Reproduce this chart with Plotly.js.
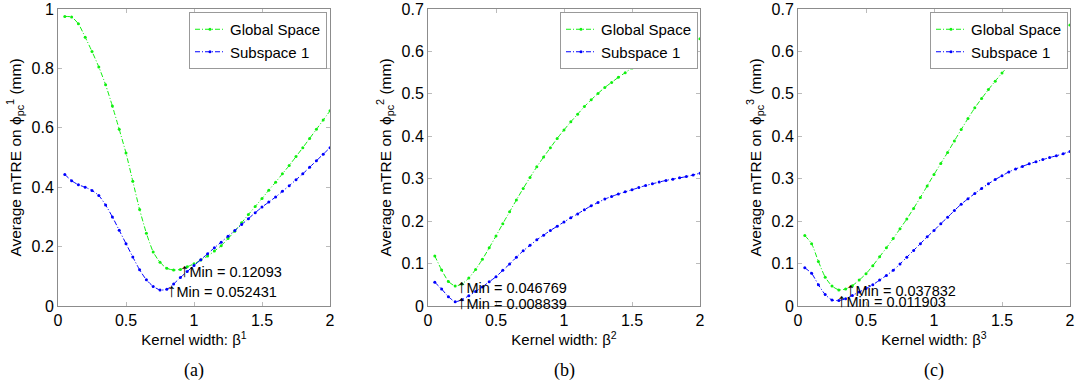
<!DOCTYPE html>
<html><head><meta charset="utf-8">
<script src="https://cdn.plot.ly/plotly-3.0.1.min.js"></script>
<style>body{margin:0;background:#fff}#c{width:1076px;height:391px}</style>
</head><body><div id="c"></div>
<script>
const xVals = [0.05,0.10,0.15,0.20,0.25,0.30,0.35,0.40,0.45,0.50,0.55,0.60,0.65,0.70,0.75,0.80,0.85,0.90,0.95,1.00,1.05,1.10,1.15,1.20,1.25,1.30,1.35,1.40,1.45,1.50,1.55,1.60,1.65,1.70,1.75,1.80,1.85,1.90,1.95,2.00];

const globalA = [0.975,0.973,0.95,0.905,0.857,0.805,0.745,0.673,0.595,0.515,0.42,0.325,0.245,0.182,0.147,0.127,0.121,0.123,0.132,0.142,0.155,0.168,0.185,0.203,0.227,0.252,0.28,0.308,0.335,0.362,0.39,0.417,0.445,0.473,0.503,0.533,0.564,0.595,0.626,0.657];
const subA = [0.443,0.422,0.408,0.400,0.389,0.372,0.340,0.300,0.255,0.210,0.165,0.122,0.088,0.066,0.054,0.056,0.074,0.096,0.116,0.136,0.156,0.176,0.196,0.215,0.235,0.254,0.274,0.294,0.314,0.333,0.350,0.367,0.386,0.405,0.425,0.445,0.467,0.489,0.511,0.533];

const globalB = [0.118,0.085,0.058,0.047,0.052,0.066,0.086,0.110,0.137,0.165,0.194,0.222,0.250,0.277,0.303,0.328,0.351,0.373,0.395,0.415,0.434,0.452,0.470,0.486,0.501,0.515,0.527,0.539,0.550,0.561,0.571,0.580,0.589,0.597,0.604,0.611,0.617,0.622,0.626,0.630];
const subB = [0.056,0.040,0.022,0.010,0.015,0.024,0.034,0.045,0.057,0.069,0.084,0.099,0.115,0.130,0.143,0.156,0.167,0.178,0.188,0.198,0.208,0.217,0.227,0.236,0.244,0.252,0.258,0.264,0.269,0.274,0.279,0.284,0.288,0.292,0.296,0.299,0.302,0.305,0.309,0.313];

const globalC = [0.166,0.147,0.105,0.068,0.047,0.038,0.040,0.048,0.061,0.076,0.095,0.116,0.137,0.159,0.182,0.205,0.230,0.256,0.283,0.310,0.336,0.362,0.389,0.416,0.442,0.467,0.489,0.510,0.530,0.549,0.567,0.584,0.600,0.615,0.628,0.639,0.648,0.655,0.659,0.662];
const subC = [0.090,0.077,0.050,0.027,0.014,0.013,0.017,0.025,0.033,0.041,0.050,0.061,0.072,0.084,0.099,0.115,0.131,0.147,0.163,0.178,0.194,0.209,0.225,0.240,0.253,0.265,0.277,0.288,0.298,0.307,0.316,0.323,0.329,0.335,0.340,0.345,0.350,0.354,0.359,0.364];

const seriesNames = ["Global Space", "Subspace 1"];
const panelLabels = ["(a)", "(b)", "(c)"];
const superscripts = ["1", "2", "3"];
const yMax = [1, 0.7, 0.7];
const yTicks = [[0,0.2,0.4,0.6,0.8,1],[0,0.1,0.2,0.3,0.4,0.5,0.6,0.7],[0,0.1,0.2,0.3,0.4,0.5,0.6,0.7]];
const xTicks = [0,0.5,1,1.5,2];

const minGlobalX = [0.88, 0.20, 0.34];
const minGlobalY = [0.12093, 0.046769, 0.037832];
const minSubX = [0.79, 0.20, 0.27];
const minSubY = [0.052431, 0.008839, 0.011903];
const minGlobalText = ["0.12093", "0.046769", "0.037832"];
const minSubText = ["0.052431", "0.008839", "0.011903"];

const panels = [[globalA, subA],[globalB, subB],[globalC, subC]];
const colors = ["#10f010", "#0000ff"];

const H = 391, W = 1076;
const xDom = [[58,330],[428,700],[798,1070]];
const yDom = [(H-306)/H, (H-9)/H];
const legRight = [327, 698, 1068];

const data = [];
const layout = {
  width: W, height: H,
  margin: {l:0, r:0, t:0, b:0},
  paper_bgcolor: "#fff", plot_bgcolor: "#fff",
  font: {family: "Liberation Sans, Arial, sans-serif", size: 15, color: "#000"},
  showlegend: true,
  annotations: []
};

const arrow = '<span style="font-size:19px">↑</span>';

panels.forEach((p, i) => {
  const suf = i === 0 ? "" : String(i+1);
  const lg = i === 0 ? "legend" : "legend" + (i+1);
  p.forEach((ys, j) => {
    data.push({
      x: xVals, y: ys, type: "scatter", mode: "lines+markers",
      name: seriesNames[j],
      xaxis: "x" + suf, yaxis: "y" + suf,
      legend: lg,
      line: {color: colors[j], width: 1, dash: "5px,2px,1px,2px", shape: "spline", smoothing: 0.6},
      marker: {color: colors[j], size: 3}
    });
  });
  const axCommon = {
    showgrid: false, zeroline: false, showline: true, linecolor: "#8c8c8c", linewidth: 1,
    mirror: "ticks", ticks: "inside", ticklen: 4, tickcolor: "#bbb", tickwidth: 1,
    tickfont: {size: 16, color: "#000"}
  };
  layout["xaxis" + suf] = Object.assign({}, axCommon, {
    domain: [xDom[i][0]/W, xDom[i][1]/W], anchor: "y" + suf,
    range: [0, 2], tickvals: xTicks, ticktext: xTicks.map(String),
    title: {text: "Kernel width: β<sup>" + superscripts[i] + "</sup>", font: {size: 15}, standoff: 4}
  });
  layout["yaxis" + suf] = Object.assign({}, axCommon, {
    domain: yDom, anchor: "x" + suf,
    range: [0, yMax[i]], tickvals: yTicks[i], ticktext: yTicks[i].map(String),
    title: {text: "Average mTRE on ϕ<sub>pc</sub><sup>" + superscripts[i] + "</sup> (mm)", font: {size: 15.5}, standoff: 6}
  });
  layout[lg] = {
    x: legRight[i]/W, y: (H-12)/H, xanchor: "right", yanchor: "top",
    bgcolor: "#fff", bordercolor: "#999", borderwidth: 1,
    font: {size: 15}, tracegroupgap: 0, itemwidth: 30
  };
  layout.annotations.push({
    xref: "x" + suf, yref: "y" + suf, x: minGlobalX[i], y: minGlobalY[i],
    text: arrow + "Min = " + minGlobalText[i], showarrow: false, xanchor: "left", yanchor: "middle",
    font: {size: 14.5, color: "#000"}
  });
  layout.annotations.push({
    xref: "x" + suf, yref: "y" + suf, x: minSubX[i], y: minSubY[i],
    text: arrow + "Min = " + minSubText[i], showarrow: false, xanchor: "left", yanchor: "middle",
    font: {size: 14.5, color: "#000"}
  });
  layout.annotations.push({
    xref: "paper", yref: "paper", x: (xDom[i][0]+xDom[i][1])/2/W, y: (H-370)/H,
    text: panelLabels[i], showarrow: false, xanchor: "center", yanchor: "middle",
    font: {family: "Liberation Serif, Times New Roman, serif", size: 18, color: "#000"}
  });
});

Plotly.newPlot("c", data, layout, {displayModeBar: false, staticPlot: true});
</script></body></html>
